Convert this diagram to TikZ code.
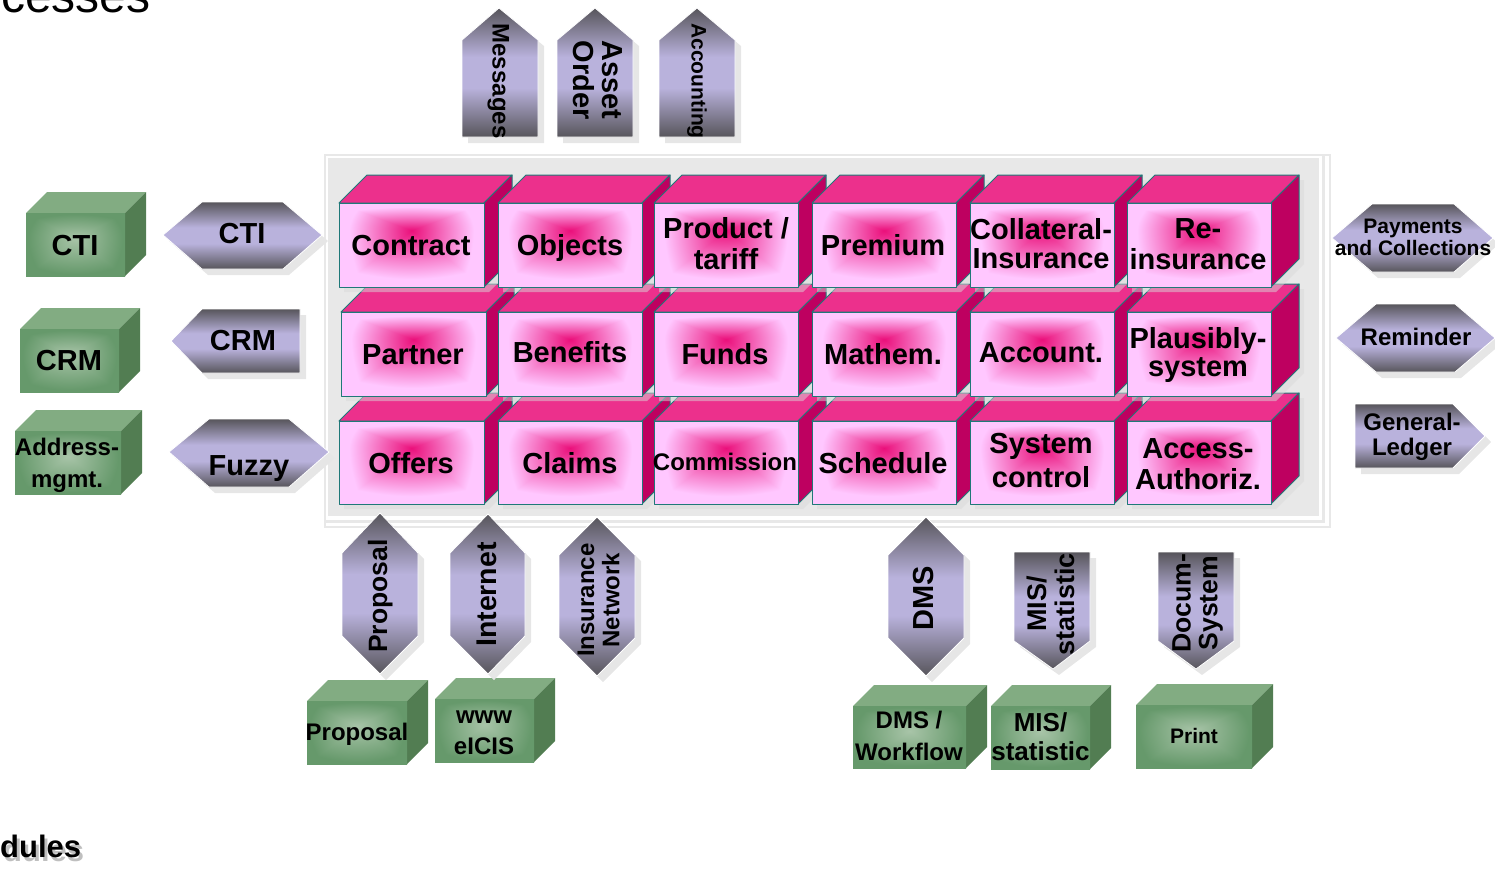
\documentclass[tikz,border=0pt]{standalone}
\usepackage{fontspec}
\setmainfont{Liberation Sans}
\definecolor{pinktop}{HTML}{EC308C}
\definecolor{pinkside}{HTML}{BE0060}
\definecolor{tealline}{HTML}{1F7878}
\definecolor{greentop}{HTML}{82AC82}
\definecolor{greenside}{HTML}{527D52}
\definecolor{arrowdark}{HTML}{57555B}
\definecolor{arrowmid}{HTML}{B9B2DC}
\definecolor{shadowgray}{HTML}{E6E6E6}
\definecolor{panelgray}{HTML}{E8E8E8}
% soft peak gradients; the path's bounding box maps to 25..75
\pgfdeclarefunctionalshading{pinkface}{\pgfpoint{0bp}{0bp}}{\pgfpoint{100bp}{100bp}}{}{
 58.75 sub dup 0 gt {16.25 div} {neg 33.75 div} ifelse
 exch 50 sub abs 25 div
 2 copy dup mul exch dup mul add sqrt 0.35 mul
 3 1 roll
 2 copy lt {exch} if pop 0.65 mul
 add
 0.86 div dup 1 gt {pop 1} if
 dup 0.08 mul 0.92 add exch
 dup 0.72 mul 0.06 add exch
 0.52 mul 0.48 add
}
\pgfdeclarefunctionalshading{greenface}{\pgfpoint{0bp}{0bp}}{\pgfpoint{100bp}{100bp}}{}{
 55 sub dup 0 gt {20 div} {neg 30 div} ifelse
 exch 50 sub abs 25 div
 2 copy dup mul exch dup mul add sqrt
 3 1 roll
 2 copy lt {exch} if pop
 add 0.5 mul
 0.95 div dup 1 gt {pop 1} if
 dup -0.26 mul 0.66 add exch
 dup -0.17 mul 0.77 add exch
 -0.24 mul 0.66 add
}
\pgfdeclareverticalshading{arrowgrad}{100bp}{color(0bp)=(arrowdark); color(25bp)=(arrowdark); color(44bp)=(arrowmid); color(56bp)=(arrowmid); color(75bp)=(arrowdark); color(100bp)=(arrowdark)}
\tikzset{
  boxshadow/.style={fill=black!15,opacity=.5},
  pinkedge/.style={draw=tealline,line width=1pt,line join=round},
  arrowbody/.style={shading=arrowgrad,draw=white,line width=.8pt,line join=round},
  arrowshadow/.style={fill=shadowgray},
  txt/.style={inner sep=0pt,outer sep=0pt,align=center,text=black},
}
\newcommand\st{\strut}
\newcommand\pinkbox[4]{%
  \fill[boxshadow] (#1+5,#4+5) -- (#3+5,#4+5) -- (#3+33,#4-23) -- (#3+33,#2-23) -- (#1+33,#2-23) -- (#1+5,#2+5) -- cycle;
  \path[pinkedge,fill=pinktop] (#1,#2) -- (#1+28,#2-28) -- (#3+28,#2-28) -- (#3,#2) -- cycle;
  \path[pinkedge,fill=pinkside] (#3,#2) -- (#3+28,#2-28) -- (#3+28,#4-28) -- (#3,#4) -- cycle;
  \path[pinkedge,shading=pinkface] (#1,#2) rectangle (#3,#4);
}
\newcommand\greenbox[4]{%
  \path[fill=greentop] (#1,#2) -- (#1+21,#2-21) -- (#3+21,#2-21) -- (#3,#2) -- cycle;
  \path[fill=greenside] (#3,#2) -- (#3+21,#2-21) -- (#3+21,#4-21) -- (#3,#4) -- cycle;
  \path[shading=greenface] (#1,#2) rectangle (#3,#4);
}
\newcommand\arrowshape[1]{%
  \fill[arrowshadow,shift={(6,6)}] #1 -- cycle;
  \path[arrowbody] #1 -- cycle;
}
% \lbl{name}{x}{y}{size}{line spacing}{rotation}{text}
\newcommand\lbl[7]{\node[txt,rotate=#6,font=\fontsize{#4}{#5}\selectfont\bfseries] (#1) at (#2,#3) {#7};}
\begin{document}
\begin{tikzpicture}[x=1pt,y=-1pt]
\useasboundingbox (0,0) rectangle (1495,871);
% panel
\fill[panelgray] (324,154) rectangle (1331,528);
\fill[white] (326,156) rectangle (1329,526);
\fill[panelgray] (326,156) rectangle (1325,523);
\fill[white] (326,156) rectangle (1322,520);
\fill[panelgray] (328,158) rectangle (1319,516);
% row 3
\pinkbox{339}{421}{484}{504}\pinkbox{498}{421}{642}{504}\pinkbox{654}{421}{798}{504}
\pinkbox{812}{421}{956}{504}\pinkbox{970}{421}{1114}{504}\pinkbox{1127}{421}{1271}{504}
% row 2
\pinkbox{341}{312}{486}{396}\pinkbox{498}{312}{642}{396}\pinkbox{654}{312}{798}{396}
\pinkbox{812}{312}{956}{396}\pinkbox{970}{312}{1114}{396}\pinkbox{1127}{312}{1271}{396}
% row 1
\pinkbox{339}{203}{484}{287}\pinkbox{498}{203}{642}{287}\pinkbox{654}{203}{798}{287}
\pinkbox{812}{203}{956}{287}\pinkbox{970}{203}{1114}{287}\pinkbox{1127}{203}{1271}{287}
\lbl{contract}{411}{250}{29}{29}{0}{\st Contract}
\lbl{objects}{570}{249}{29}{29}{0}{\st Objects}
\lbl{product}{726}{247.5}{29}{28}{0}{\st Product /\\\st tariff}
\lbl{premium}{883}{249}{29}{29}{0}{\st Premium}
\lbl{collateral}{1041}{248}{29}{29}{0}{\st Collateral-\\\st Insurance}
\lbl{reins}{1198}{248}{29}{29}{0}{\st Re-\\\st insurance}
\lbl{partner}{413}{359}{29}{29}{0}{\st Partner}
\lbl{benefits}{570}{356}{29}{29}{0}{\st Benefits}
\lbl{funds}{725}{358}{29}{29}{0}{\st Funds}
\lbl{mathem}{883}{358}{29}{29}{0}{\st Mathem.}
\lbl{account}{1041}{357}{29}{29}{0}{\st Account.}
\lbl{plaus}{1198}{356.5}{29}{28}{0}{\st Plausibly-\\\st system}
\lbl{offers}{411}{467}{29}{29}{0}{\st Offers}
\lbl{claims}{570}{467}{29}{29}{0}{\st Claims}
\lbl{commission}{725}{465}{24}{24}{0}{\st Commission}
\lbl{schedule}{883}{467}{29}{29}{0}{\st Schedule}
\lbl{syscontrol}{1041}{464}{29}{34}{0}{\st System\\\st control}
\lbl{access}{1198}{468}{29}{30}{0}{\st Access-\\\st Authoriz.}
% left green boxes
\greenbox{26}{213}{125}{276}\greenbox{20}{329}{119}{392}\greenbox{15}{431}{121}{494}
\lbl{gcti}{75}{249.5}{29}{29}{0}{\st CTI}
\lbl{gcrm}{69}{365}{29}{29}{0}{\st CRM}
\lbl{gaddr}{67}{465}{24}{32}{0}{\st Address-\\\st mgmt.}
% bottom green boxes
\greenbox{307}{701}{407}{764}\greenbox{435}{699}{534}{762}
\greenbox{853}{706}{966}{768}\greenbox{991}{706}{1090}{769}\greenbox{1136}{705}{1252}{768}
\lbl{gprop}{357}{735}{24}{24}{0}{\st Proposal}
\lbl{gwww}{484}{732.5}{24}{31}{0}{\st www\\\st eICIS}
\lbl{gdms}{909}{738.5}{24}{32}{0}{\st DMS /\ \\\st Workflow}
\lbl{gmis}{1040.5}{740}{26}{29}{0}{\st MIS/\\\st statistic}
\lbl{gprint}{1194}{739}{21}{21}{0}{\st Print}
% left arrows
\arrowshape{(163,235) -- (202,202) -- (283,202) -- (322,235) -- (283,269) -- (202,269)}
\arrowshape{(171,341) -- (202,309) -- (300,309) -- (300,373) -- (202,373)}
\arrowshape{(169,452) -- (209,419) -- (289,419) -- (329,452) -- (289,487) -- (209,487)}
\lbl{acti}{242}{237.5}{29}{29}{0}{\st CTI}
\lbl{acrm}{243}{344.5}{29}{29}{0}{\st CRM}
\lbl{afuzzy}{249}{470}{29}{29}{0}{\st Fuzzy}
% right arrows
\arrowshape{(1332,238) -- (1372,204) -- (1454,204) -- (1493,238) -- (1454,272) -- (1372,272)}
\arrowshape{(1336,338) -- (1376,304) -- (1455,304) -- (1495,338) -- (1455,372) -- (1376,372)}
\arrowshape{(1355,404) -- (1453,404) -- (1485,436) -- (1453,468) -- (1355,468)}
\lbl{apay}{1413}{240.5}{21}{20}{0}{\st Payments\ \\\st and Collections}
\lbl{arem}{1416}{340}{24}{24}{0}{\st Reminder}
\lbl{agl}{1412}{437.5}{24}{25}{0}{\st General-\\\st Ledger}
% top arrows
\arrowshape{(499,8) -- (538,40) -- (538,137) -- (462,137) -- (462,40)}
\arrowshape{(595,8) -- (633,40) -- (633,137) -- (557,137) -- (557,40)}
\arrowshape{(697,8) -- (735,40) -- (735,137) -- (659,137) -- (659,40)}
\lbl{amsg}{497.5}{81}{24}{24}{-90}{\st Messages}
\lbl{aasset}{594}{80}{29}{26}{-90}{\st Asset\\\st Order}
\lbl{aacc}{696}{81}{21}{21}{-90}{\st Accounting}
% bottom arrows
\arrowshape{(380,513) -- (418,553) -- (418,636) -- (380,674) -- (342,636) -- (342,553)}
\arrowshape{(488,514) -- (525,553) -- (525,636) -- (488,674) -- (450,636) -- (450,553)}
\arrowshape{(597,517) -- (635,555) -- (635,638) -- (597,676) -- (559,638) -- (559,555)}
\arrowshape{(926,517) -- (964,555) -- (964,638) -- (926,676) -- (888,638) -- (888,555)}
\arrowshape{(1014,552) -- (1090,552) -- (1090,641) -- (1053,669) -- (1014,641)}
\arrowshape{(1158,552) -- (1234,552) -- (1234,641) -- (1196,669) -- (1158,641)}
\lbl{aprop}{381.5}{596}{26.5}{26}{90}{\st Proposal}
\lbl{aint}{491}{594.5}{28.5}{28}{90}{\st Internet}
\lbl{ains}{602}{600}{24}{23}{90}{\st Insurance\\\st Network}
\lbl{adms}{928}{598}{29}{29}{90}{\st DMS}
\lbl{amis}{1054.5}{604}{27}{26}{90}{\st MIS/\\\st statistic}
\lbl{adoc}{1198.5}{603}{26.6}{24}{90}{\st Docum-\\\st System}
% clipped titles
\node[inner sep=0pt,anchor=base west,font=\fontsize{48}{48}\selectfont] (ttop) at (1,12) {cesses};
\node[inner sep=0pt,anchor=base west,text=black!25,font=\fontsize{31}{31}\selectfont\bfseries] (tbotshadow) at (3,861) {dules};
\node[inner sep=0pt,anchor=base west,font=\fontsize{31}{31}\selectfont\bfseries] (tbot) at (0,857) {dules};
\end{tikzpicture}
\end{document}
